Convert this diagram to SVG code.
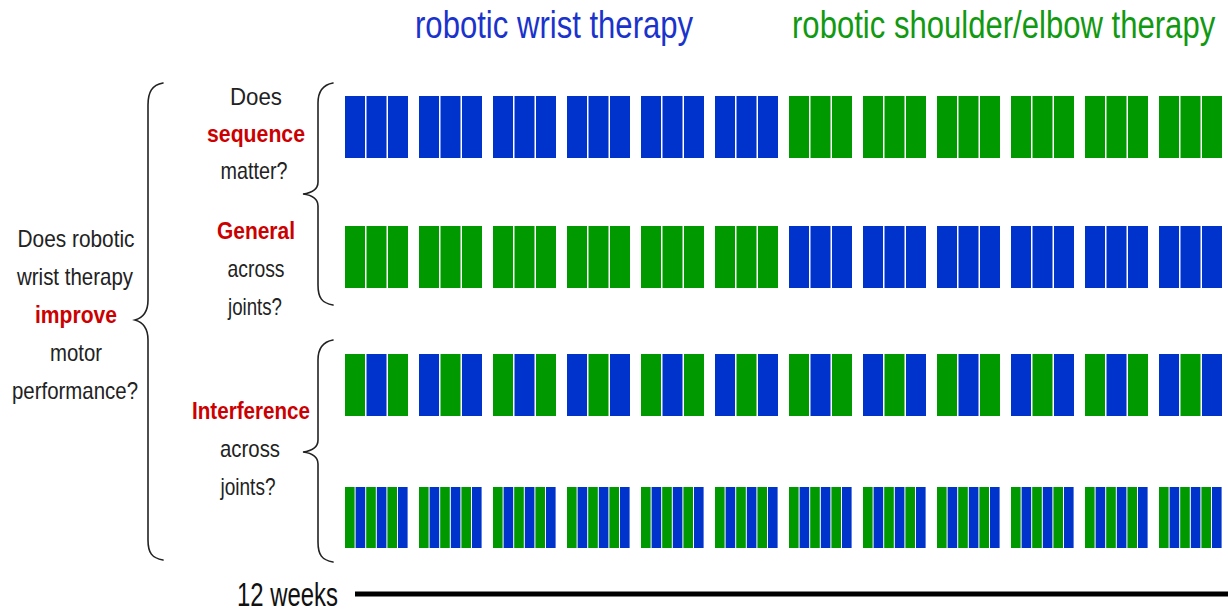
<svg xmlns="http://www.w3.org/2000/svg" xmlns:xlink="http://www.w3.org/1999/xlink" width="1228" height="612" viewBox="0 0 1228 612">
  <style>
    text { font-family: "Liberation Sans", Arial, sans-serif; }
    .hd { font-size: 38px; text-anchor: start; }
    .q { font-size: 24px; fill: #222; text-anchor: middle; }
    .em { font-weight: bold; fill: #cc0000; }
    .b { fill: #0033cc; }
    .g { fill: #009900; }
    .brace { fill: none; stroke: #222; stroke-width: 1.6; stroke-linecap: round; }
  </style>
  <defs>
    <!-- three-bar blocks -->
    <g id="bbb"><rect class="b" x="0" y="0" width="20" height="62"/><rect class="b" x="21.5" y="0" width="20" height="62"/><rect class="b" x="43" y="0" width="20" height="62"/></g>
    <g id="ggg"><rect class="g" x="0" y="0" width="20" height="62"/><rect class="g" x="21.5" y="0" width="20" height="62"/><rect class="g" x="43" y="0" width="20" height="62"/></g>
    <g id="gbg"><rect class="g" x="0" y="0" width="20" height="62"/><rect class="b" x="21.5" y="0" width="20" height="62"/><rect class="g" x="43" y="0" width="20" height="62"/></g>
    <g id="bgb"><rect class="b" x="0" y="0" width="20" height="62"/><rect class="g" x="21.5" y="0" width="20" height="62"/><rect class="b" x="43" y="0" width="20" height="62"/></g>
    <!-- six-bar interleaved block -->
    <g id="six"><rect class="g" x="0" y="0" width="9.6" height="61"/><rect class="b" x="10.6" y="0" width="9.6" height="61"/><rect class="g" x="21.2" y="0" width="9.6" height="61"/><rect class="b" x="31.8" y="0" width="9.6" height="61"/><rect class="g" x="42.4" y="0" width="9.6" height="61"/><rect class="b" x="53" y="0" width="9.6" height="61"/></g>
  </defs>

  <rect width="1228" height="612" fill="#ffffff"/>

  <!-- column headings (horizontally condensed) -->
  <g id="heading-wrist" transform="translate(415,38) scale(0.818,1)">
    <text class="hd" x="0" y="0" fill="#1a33cc" textLength="340" lengthAdjust="spacingAndGlyphs">robotic wrist therapy</text>
  </g>
  <g id="heading-shoulder" transform="translate(792,38) scale(0.817,1)">
    <text class="hd" x="0" y="0" fill="#119911" textLength="518" lengthAdjust="spacingAndGlyphs">robotic shoulder/elbow therapy</text>
  </g>

  <!-- main question -->
  <g id="question-main">
    <text class="q" x="76" y="247" textLength="117" lengthAdjust="spacingAndGlyphs">Does robotic</text>
    <text class="q" x="75" y="285" textLength="116" lengthAdjust="spacingAndGlyphs">wrist therapy</text>
    <text class="q em" x="76" y="323" textLength="82" lengthAdjust="spacingAndGlyphs">improve</text>
    <text class="q" x="76" y="361" textLength="52" lengthAdjust="spacingAndGlyphs">motor</text>
    <text class="q" x="75" y="399" textLength="126" lengthAdjust="spacingAndGlyphs">performance?</text>
  </g>

  <!-- sub-questions -->
  <g id="question-sequence">
    <text class="q" x="256" y="105" textLength="52" lengthAdjust="spacingAndGlyphs">Does</text>
    <text class="q em" x="256" y="142" textLength="98" lengthAdjust="spacingAndGlyphs">sequence</text>
    <text class="q" x="254" y="179" textLength="67" lengthAdjust="spacingAndGlyphs">matter?</text>
  </g>
  <g id="question-general">
    <text class="q em" x="256" y="239" textLength="78" lengthAdjust="spacingAndGlyphs">General</text>
    <text class="q" x="256" y="277" textLength="57" lengthAdjust="spacingAndGlyphs">across</text>
    <text class="q" x="255" y="315" textLength="54" lengthAdjust="spacingAndGlyphs">joints?</text>
  </g>
  <g id="question-interference">
    <text class="q em" x="251" y="419" textLength="118" lengthAdjust="spacingAndGlyphs">Interference</text>
    <text class="q" x="250" y="457" textLength="60" lengthAdjust="spacingAndGlyphs">across</text>
    <text class="q" x="248" y="495" textLength="55" lengthAdjust="spacingAndGlyphs">joints?</text>
  </g>

  <!-- braces linking questions to schedules -->
  <g id="connectors">
    <path class="brace" d="M163,83 C152,85 148,92 148,105 L148,300 C148,313 142,318 135,320 C142,322 148,327 148,340 L148,540 C148,553 152,558 163,560"/>
    <path class="brace" d="M333,83 C322,85 318,92 318,103 L318,182 C318,190 311,193 303,194 C311,195 318,198 318,206 L318,285 C318,298 322,303 333,305"/>
    <path class="brace" d="M333,340 C322,342 318,349 318,360 L318,440 C318,448 311,451 303,452 C311,453 318,456 318,464 L318,542 C318,555 322,560 333,562"/>
  </g>

  <!-- schedule 1: wrist first, then shoulder/elbow -->
  <g id="row-wrist-first">
    <use xlink:href="#bbb" x="345" y="96"/><use xlink:href="#bbb" x="419" y="96"/><use xlink:href="#bbb" x="493" y="96"/>
    <use xlink:href="#bbb" x="567" y="96"/><use xlink:href="#bbb" x="641" y="96"/><use xlink:href="#bbb" x="715" y="96"/>
    <use xlink:href="#ggg" x="789" y="96"/><use xlink:href="#ggg" x="863" y="96"/><use xlink:href="#ggg" x="937" y="96"/>
    <use xlink:href="#ggg" x="1011" y="96"/><use xlink:href="#ggg" x="1085" y="96"/><use xlink:href="#ggg" x="1159" y="96"/>
  </g>

  <!-- schedule 2: shoulder/elbow first, then wrist -->
  <g id="row-shoulder-first">
    <use xlink:href="#ggg" x="345" y="226"/><use xlink:href="#ggg" x="419" y="226"/><use xlink:href="#ggg" x="493" y="226"/>
    <use xlink:href="#ggg" x="567" y="226"/><use xlink:href="#ggg" x="641" y="226"/><use xlink:href="#ggg" x="715" y="226"/>
    <use xlink:href="#bbb" x="789" y="226"/><use xlink:href="#bbb" x="863" y="226"/><use xlink:href="#bbb" x="937" y="226"/>
    <use xlink:href="#bbb" x="1011" y="226"/><use xlink:href="#bbb" x="1085" y="226"/><use xlink:href="#bbb" x="1159" y="226"/>
  </g>

  <!-- schedule 3: alternating by session -->
  <g id="row-alternating">
    <use xlink:href="#gbg" x="345" y="354"/><use xlink:href="#bgb" x="419" y="354"/><use xlink:href="#gbg" x="493" y="354"/>
    <use xlink:href="#bgb" x="567" y="354"/><use xlink:href="#gbg" x="641" y="354"/><use xlink:href="#bgb" x="715" y="354"/>
    <use xlink:href="#gbg" x="789" y="354"/><use xlink:href="#bgb" x="863" y="354"/><use xlink:href="#gbg" x="937" y="354"/>
    <use xlink:href="#bgb" x="1011" y="354"/><use xlink:href="#gbg" x="1085" y="354"/><use xlink:href="#bgb" x="1159" y="354"/>
  </g>

  <!-- schedule 4: both within each session -->
  <g id="row-interleaved">
    <use xlink:href="#six" x="345" y="487"/><use xlink:href="#six" x="419" y="487"/><use xlink:href="#six" x="493" y="487"/>
    <use xlink:href="#six" x="567" y="487"/><use xlink:href="#six" x="641" y="487"/><use xlink:href="#six" x="715" y="487"/>
    <use xlink:href="#six" x="789" y="487"/><use xlink:href="#six" x="863" y="487"/><use xlink:href="#six" x="937" y="487"/>
    <use xlink:href="#six" x="1011" y="487"/><use xlink:href="#six" x="1085" y="487"/><use xlink:href="#six" x="1159" y="487"/>
  </g>

  <!-- time axis -->
  <g id="timeline">
    <text x="237" y="606" font-size="33" fill="#111" textLength="101" lengthAdjust="spacingAndGlyphs">12 weeks</text>
    <rect x="355" y="591.5" width="873" height="5" fill="#000"/>
  </g>
</svg>
